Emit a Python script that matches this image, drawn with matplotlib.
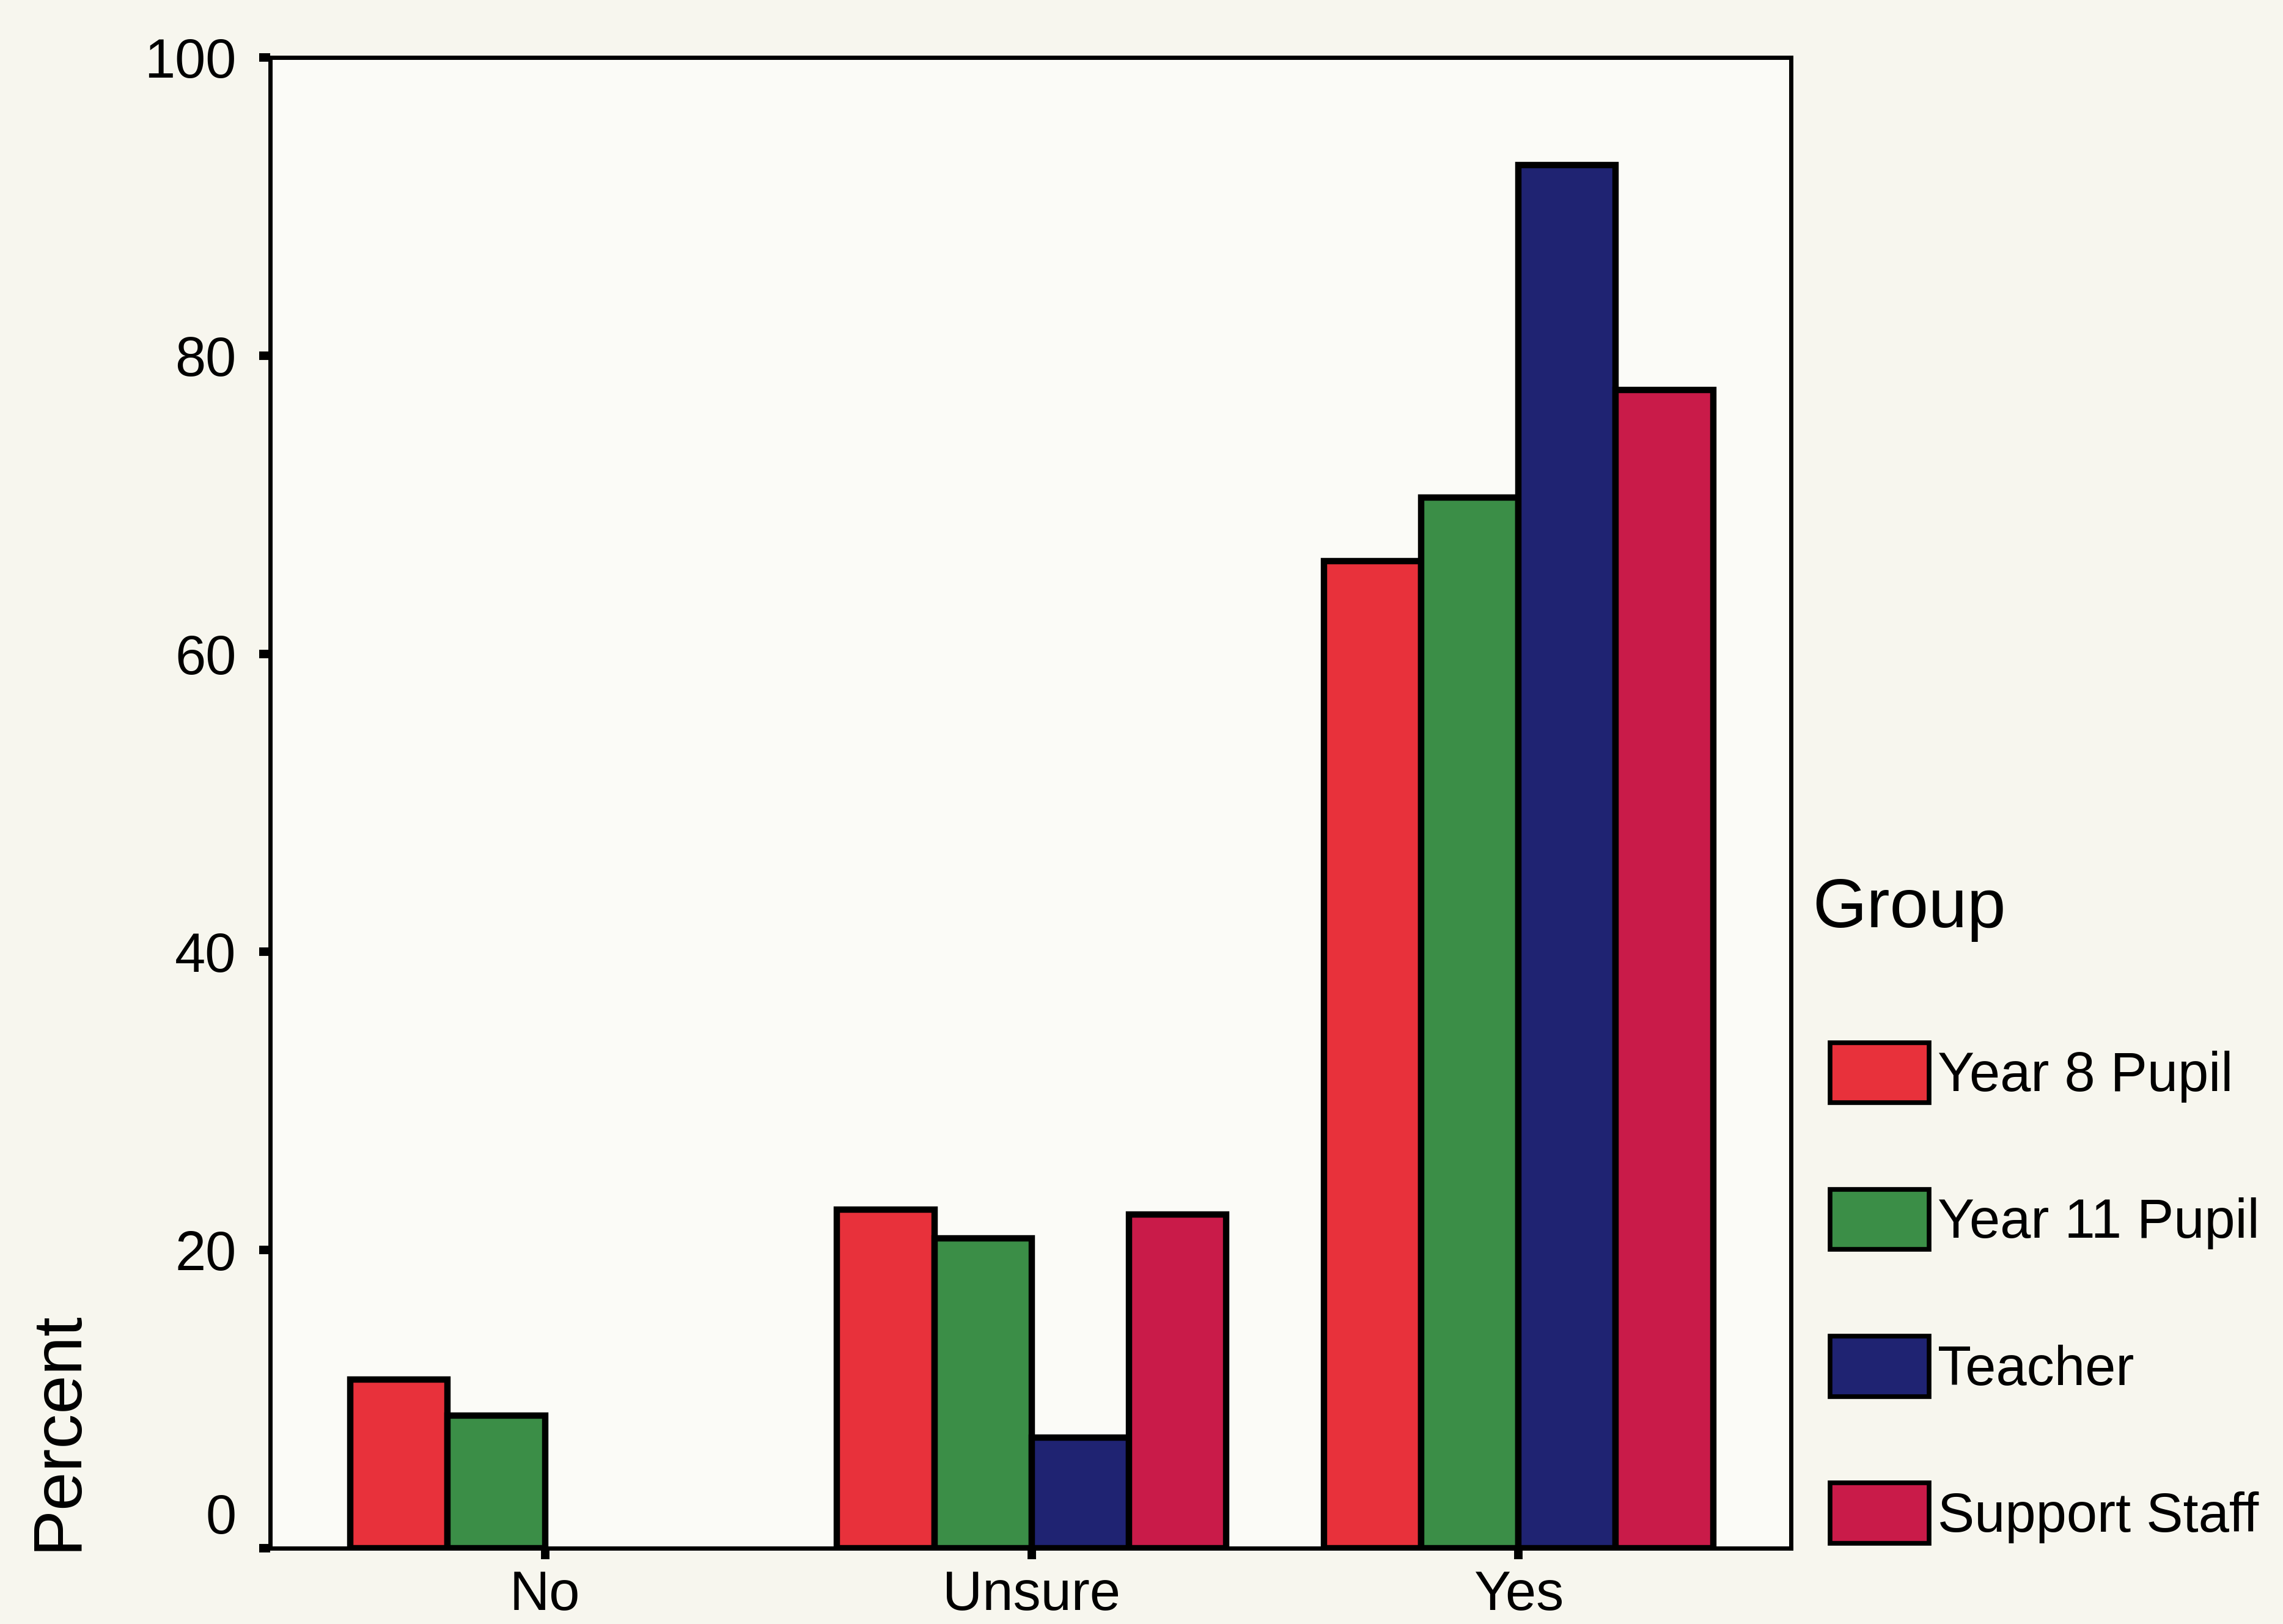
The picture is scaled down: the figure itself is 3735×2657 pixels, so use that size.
"""Grouped bar chart: percentage of each group answering No / Unsure / Yes."""

import matplotlib

matplotlib.use("Agg")
import matplotlib.pyplot as plt  # noqa: E402
import numpy as np  # noqa: E402
from matplotlib.patches import Patch  # noqa: E402
from matplotlib.transforms import ScaledTranslation  # noqa: E402

plt.rcParams["font.family"] = ["Liberation Sans", "DejaVu Sans"]

# Data
categories = ["No", "Unsure", "Yes"]
groups = ["Year 8 Pupil", "Year 11 Pupil", "Teacher", "Support Staff"]
year8 = [11.3, 22.7, 66.2]
year11 = [8.9, 20.8, 70.5]
teacher = [0.0, 7.4, 92.8]
support = [0.0, 22.4, 77.7]
y_ticks = [0, 20, 40, 60, 80, 100]

colors = ["#E8313B", "#3B8E47", "#1F2372", "#C91B49"]
series = [year8, year11, teacher, support]

fig = plt.figure(figsize=(37.35, 26.57), dpi=100, facecolor="#F7F6EE")
ax = fig.add_axes([0.1183, 0.0467, 0.6662, 0.9179], facecolor="#FBFBF7")

x = np.arange(len(categories))
width = 0.2
offsets = (np.arange(len(groups)) - 1.5) * width
for vals, off, col in zip(series, offsets, colors):
    bars = ax.bar(x + off, vals, width, color=col, edgecolor="black",
                  linewidth=7.5, zorder=2)
    # empty cells are not drawn at all in the original
    for b in bars:
        if b.get_height() == 0:
            b.set_visible(False)

ax.set_xlim(-0.565, 2.56)
ax.set_ylim(0, 100)
ax.set_xticks(x)
ax.set_xticklabels(categories)
ax.set_yticks(y_ticks)

for spine in ax.spines.values():
    spine.set_linewidth(5)
    spine.set_color("black")
    spine.set_zorder(3)

ax.tick_params(axis="both", direction="out", length=13, width=10, colors="black",
               labelsize=65)
ax.tick_params(axis="y", pad=27)
ax.tick_params(axis="x", pad=12)

# the scanned chart prints the "0" label a little above its tick
zero_label = ax.yaxis.get_major_ticks()[0].label1
zero_label.set_transform(zero_label.get_transform()
                         + ScaledTranslation(0, 0.57, fig.dpi_scale_trans))

ax.set_ylabel("Percent", fontsize=82)
ax.yaxis.set_label_coords(-0.118, 0.079)

fig.text(0.794, 0.420, "Group", fontsize=82, ha="left", va="bottom")

handles = [Patch(facecolor=c, edgecolor="black", linewidth=5.5) for c in colors]
ax.legend(
    handles,
    groups,
    loc="upper left",
    bbox_to_anchor=(0.8016, 0.358),
    bbox_transform=fig.transFigure,
    frameon=False,
    fontsize=65,
    handlelength=1.8,
    handleheight=1.3,
    handletextpad=0.15,
    labelspacing=1.57,
    borderpad=0,
    borderaxespad=0,
)

fig.savefig("out.png", dpi=100, facecolor=fig.get_facecolor())
